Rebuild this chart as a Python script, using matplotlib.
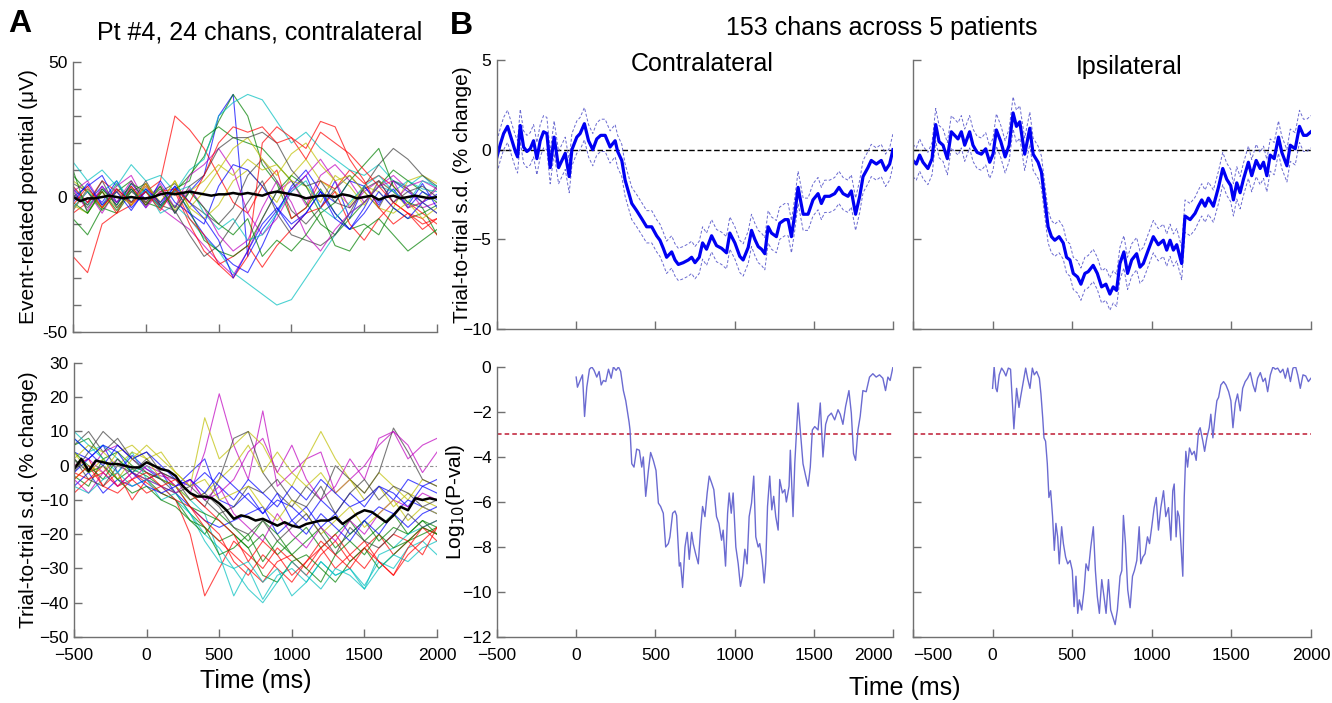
import matplotlib
matplotlib.use("Agg")
import matplotlib.pyplot as plt

plt.rcParams['font.family'] = ['Liberation Sans', 'DejaVu Sans']

# ---- panel A: single patient, 24 channels (values every 100 ms) ----
t_ch = list(range(-500, 2001, 100))
erp_ch = [
    [3, -2, 4, -3, 5, -1, 4, -6, 2, 8, 30, 38, -22, -12, -5, 3, 8, -4, 6, -8, 4, -3, 6, 2, -2, 1],
    [-8, -14, -4, -6, 2, 5, -3, 2, 8, 15, 28, 38, 30, 12, 5, -8, -4, 3, -6, -12, -10, -14, -4, -8, -6, -3],
    [-22, -28, -10, -6, -3, 2, 6, 30, 25, 18, 8, -2, -6, 4, 10, -8, -4, 6, 3, 10, 5, 8, 4, -2, -6, -10],
    [13, 6, 10, 4, 12, 6, 8, 2, 10, 14, 30, 35, 38, 36, 28, 20, 24, 18, 14, 10, 8, 12, 6, 4, 8, 3],
    [-4, 2, -6, 3, -2, 4, -4, -8, -12, -18, -24, -29, -20, -8, 2, 6, -3, 8, 12, 6, -2, 4, 8, 3, -4, -2],
    [6, 2, -4, 5, -3, 4, -2, 6, -4, -8, -3, 6, 10, 4, -2, 8, 14, 6, 2, -3, 4, 2, -4, 6, 8, 5],
    [2, -4, 3, -2, 4, -3, 2, 5, -2, -6, -10, -4, 8, 14, 6, -5, -10, -4, 3, 8, 2, -4, 6, 3, -2, 4],
    [-5, 3, -2, 6, -4, 2, -3, 4, -6, -14, -20, -25, -28, -18, -6, 4, 10, 2, -6, -12, -4, 6, 2, -3, 5, -4],
    [8, 2, -5, 2, 6, -2, -4, 3, 6, 22, 26, 22, 20, 18, 12, 6, -2, -10, -14, -8, -2, 4, 10, 6, 2, -2],
    [-6, -2, 6, 2, -3, 5, -4, 2, -10, -20, -25, -22, -18, -26, -18, -12, -6, -4, 2, -10, -16, -8, -2, -6, -10, -8],
    [4, -3, 2, 6, -2, 3, -6, -3, -8, -15, -20, -28, -32, -36, -40, -38, -30, -22, -14, -6, -2, 4, 2, 6, 3, 2],
    [2, 6, -3, 4, 8, -2, 5, -4, 8, 12, 18, 10, -6, -14, -8, 2, 8, 14, 6, -4, 2, 6, -2, 4, 6, 3],
    [-3, -6, 2, -4, 3, -2, 4, -5, 2, 6, 12, 8, 14, 10, 12, 6, 4, -2, 8, 4, -3, 6, 2, -4, -2, -6],
    [5, 2, -4, 3, -2, 6, -3, -5, -14, -22, -18, -10, -2, 6, -6, -14, -16, -18, -14, -6, 4, 12, 18, 14, 8, 4],
    [0, 4, 8, -2, 3, -4, 6, -2, -6, -10, 4, 12, 10, 4, -4, -10, -6, 2, -2, 6, 4, -2, 3, -4, 2, -1],
    [-2, -6, 3, -3, 5, 2, -4, 3, -5, -16, -20, -22, -18, -8, 2, 8, 4, -6, -2, 6, 12, 18, 4, -2, -4, -14],
    [4, -2, 2, -6, 4, -3, 2, 3, -8, -14, -25, -30, -22, 20, 26, 22, 14, 24, 20, 16, 10, 4, -2, -6, -8, -14],
    [-4, 2, -3, 5, -2, 3, -4, 2, 4, -6, -12, -8, -16, -14, -6, 2, 6, -4, -8, -2, 4, 8, 2, -2, 6, 4],
    [3, -5, 4, -2, 6, -4, 2, -6, 3, -4, -14, -20, -16, -4, 6, -2, -14, -20, -12, -6, -2, 4, 6, -4, -2, 3],
    [-5, 3, -4, 2, -3, 5, -2, 6, -4, 2, 10, 18, 22, 14, 8, 16, 20, 12, 6, 8, 2, -4, -6, -2, -8, -4],
    [1, -3, 6, -4, 2, -2, 3, -4, 4, 8, 18, 22, 22, 24, 20, 10, 4, 6, -2, -4, 3, 6, -2, 2, 4, 0],
    [-2, 5, -3, 2, -5, 3, -2, 4, -2, -8, -16, -30, -20, -10, -4, -12, -6, 2, -8, -12, -6, 2, -4, -8, -2, -6],
    [10, -6, 2, -5, 3, -3, 4, -6, 2, -4, -10, -14, -8, -22, -16, -20, -14, -6, -18, -20, -12, -8, -14, -20, -16, -12],
    [-3, 4, -4, 3, -2, 2, -5, 3, -2, 8, 20, 26, 24, 26, 20, 22, 18, 28, 26, 14, 6, -4, -10, -6, -12, -8],
]
sd_ch = [
    [4, 2, 6, -2, 3, -1, -4, -6, -2, 2, -10, -12, -8, -14, -10, -12, -16, -10, -14, -8, -12, -6, -10, -4, -6, -8],
    [-3, -6, 2, -4, -1, -3, -6, -8, -14, -18, -22, -20, -24, -20, -26, -22, -18, -24, -20, -16, -22, -18, -14, -20, -16, -18],
    [-2, -4, 0, -6, -2, -5, -8, -10, -20, -38, -30, -22, -26, -30, -24, -28, -32, -26, -22, -28, -24, -20, -26, -22, -18, -20],
    [8, 4, 6, 2, -2, 0, -4, -6, -10, -14, -26, -38, -30, -39, -32, -30, -34, -28, -32, -30, -35, -28, -30, -24, -22, -26],
    [2, -2, 4, 6, 2, -1, -3, -4, -8, 4, 21, 6, -4, 16, -6, -2, 2, 4, -8, -4, 0, 6, 10, 2, 6, 8],
    [-4, 0, -2, 4, 6, 2, 4, -2, -6, 14, 2, 6, 10, 6, -2, -6, 2, 10, 2, -4, -8, -2, -6, -10, -4, -6],
    [6, 10, 4, 8, 2, 4, -2, -4, -8, -12, -4, 8, 10, -2, -8, -12, -6, -10, 0, -4, -8, -2, 11, 4, -4, -6],
    [-6, -2, -8, -4, -6, -4, -2, -8, -12, -16, -18, -16, -14, -12, -20, -16, -12, -18, -14, -20, -16, -12, -14, -10, -12, -14],
    [6, 8, 2, 4, 0, -2, -4, -6, -12, -14, -16, -20, -24, -32, -34, -28, -26, -30, -34, -28, -24, -30, -26, -22, -20, -18],
    [0, 2, -6, -2, -10, -4, -2, -6, -12, -16, -20, -28, -32, -26, -30, -34, -28, -24, -30, -26, -22, -28, -32, -24, -18, -22],
    [10, 6, 2, -2, 4, -4, -6, -10, -14, -22, -28, -30, -36, -40, -34, -28, -32, -36, -30, -32, -36, -30, -26, -28, -24, -22],
    [-4, -8, -2, 2, -4, 0, -2, -6, -4, -10, -8, -4, 4, 8, -2, 6, -4, -10, -6, 2, -4, 8, 10, 6, -2, 4],
    [2, 6, 4, 0, 4, 2, -4, -6, -10, -8, -4, 0, 6, -2, 4, -2, -6, -2, -8, -4, -10, -6, -12, -8, -10, -12],
    [-2, 4, 10, 6, 2, -2, -4, -8, -6, -10, -14, -12, -6, -8, -4, -10, -12, -6, -14, -8, -4, -10, -6, -8, -12, -10],
    [8, 4, 0, 6, 2, 4, 0, -4, -6, -2, -6, -10, -4, -8, -12, -6, -10, -4, -8, -12, -10, -6, -8, -12, -6, -4],
    [4, 0, -4, 2, -2, -4, -8, -10, -16, -20, -14, -18, -22, -16, -20, -26, -22, -18, -24, -20, -16, -22, -18, -20, -16, -20],
    [-8, -4, -2, -6, -4, -8, -6, -10, -12, -18, -22, -26, -30, -34, -28, -26, -30, -24, -20, -26, -30, -24, -20, -22, -26, -18],
    [-6, -8, -4, -2, -6, -4, -10, -8, -14, -20, -24, -30, -28, -34, -30, -38, -34, -28, -32, -30, -36, -26, -24, -20, -18, -16],
    [0, 2, -2, -6, -2, -4, -6, -8, -4, -10, -6, -14, -18, -22, -14, -20, -24, -18, -22, -16, -20, -14, -10, -12, -8, -10],
    [4, -2, 2, -4, 2, 6, 2, -2, -6, -4, -10, -8, -6, -12, -16, -10, -14, -20, -16, -12, -18, -14, -10, -16, -12, -14],
    [2, -4, -6, 0, -2, 2, -2, -4, -10, -8, -12, -18, -20, -16, -22, -18, -14, -20, -26, -18, -22, -24, -20, -14, -18, -16],
    [-2, 2, 6, 4, -2, -6, -8, -6, -4, -8, -2, -6, -10, -14, -8, -16, -20, -14, -18, -22, -16, -20, -14, -18, -14, -12],
    [2, -2, 0, -4, -8, -6, -10, -12, -16, -18, -26, -24, -20, -28, -22, -26, -30, -34, -26, -22, -26, -20, -24, -22, -18, -20],
    [-4, 0, -6, -8, -4, -2, -6, -4, -8, -12, -16, -20, -28, -22, -26, -32, -28, -22, -26, -30, -24, -28, -32, -26, -22, -18],
]
# channel means (black lines), every 50 ms
t_mean = list(range(-500, 2001, 50))
erp_mean = [0, -1.5, -0.5, -0.5, 0, 0.5, 0, -0.5, 0, -0.5, -0.5, 0, 1, 1.5, 1, 1.5, 2, 1.5, 1, 0.5,
            1, 1, 1.5, 1, 1.5, 1, 0.5, 1.5, 2, 1.5, 1, 0.5, -0.5, 0, 0.5, 0.5, 0, 1, 0.5, -0.5,
            0, 0.5, -1, 0, 0.5, -0.5, 0, 0.5, 0, -0.5, 0]
sd_mean = [-1, 2, -1.5, 1.5, 1, 0.5, 0.5, 0, -0.5, -0.5, 1, 0, -1, -1.5, -3, -6, -8, -9, -9, -9.5,
           -11, -13, -15.5, -14.5, -15, -16, -15.5, -16.5, -17.5, -16.5, -17.5, -18, -17, -16.5, -16, -16, -15, -17, -15.5, -14,
           -13, -13.5, -15, -16.5, -14.5, -12, -13, -9.5, -10, -9.5, -10]

# ---- panel B: group mean s.d. change ----
t_contra = [-500, -479, -458, -433, -405, -384, -370, -353, -332, -311, -290, -269, -248, -227, -206, -185, -164, -139, -111, -90,
            -69, -44, -27, 4, 25, 52, 78, 105, 130, 155, 183, 214, 246, 262, 288, 309, 330, 351, 382, 414,
            445, 477, 508, 529, 550, 571, 603, 624, 645, 676, 708, 729, 750, 777, 798, 823, 855, 886, 918, 949,
            970, 1002, 1033, 1054, 1086, 1107, 1128, 1149, 1170, 1191, 1212, 1233, 1264, 1285, 1317, 1338, 1359, 1380, 1401, 1433,
            1464, 1495, 1527, 1548, 1569, 1600, 1632, 1659, 1685, 1716, 1737, 1764, 1790, 1811, 1842, 1863, 1895, 1926, 1953, 1979, 2000]
sd_contra = [-0.4, 0.3, 0.9, 1.3, 0.5, -0.1, -0.4, 1.35, 0.15, -0.1, 0.05, 0.5, -0.5, 0.5, 1.0, 0.9, -1.0, 0.7, -1.0, -0.6,
             -0.2, -1.5, 0, 0.7, 0.9, 1.45, 0.5, 0, 0.6, 0.8, 0.8, 0.15, 0.5, -0.1, -0.6, -1.7, -2.35, -3.0, -3.4, -3.85,
             -4.3, -4.3, -4.8, -5.05, -5.5, -6.0, -5.7, -6.15, -6.4, -6.3, -6.15, -6.0, -6.3, -6.0, -5.2, -5.55, -4.8, -5.35, -5.5, -5.75,
             -4.65, -5.2, -5.95, -6.15, -5.45, -4.5, -5.0, -5.4, -5.55, -5.8, -4.3, -4.65, -4.85, -4.1, -3.9, -3.9, -4.85, -3.6, -2.1, -3.6,
             -3.6, -2.8, -2.45, -3.0, -2.6, -2.6, -2.45, -2.1, -2.45, -2.6, -2.3, -3.6, -2.6, -1.5, -1.0, -0.6, -0.8, -0.6, -1.15, -0.8, 0]
t_ipsi = [-500, -479, -458, -437, -406, -380, -357, -336, -311, -284, -259, -238, -217, -196, -175, -144, -123, -97, -70, -43,
          -18, 3, 24, 52, 79, 104, 129, 150, 171, 202, 234, 255, 286, 307, 328, 349, 370, 391, 418, 444,
          465, 486, 507, 534, 555, 580, 601, 632, 658, 685, 712, 737, 758, 779, 800, 825, 848, 874, 905, 926,
          947, 978, 1010, 1041, 1073, 1094, 1115, 1136, 1157, 1188, 1209, 1241, 1272, 1293, 1314, 1335, 1356, 1387, 1419, 1446,
          1471, 1496, 1513, 1534, 1555, 1576, 1607, 1628, 1656, 1681, 1702, 1723, 1744, 1769, 1796, 1817, 1849, 1870, 1901, 1928,
          1953, 1974, 2000]
sd_ipsi = [-0.6, -0.8, -0.3, -0.7, -1.05, -0.5, 1.4, 0.45, 0.25, -0.5, 1.0, 0.8, 0.6, 1.0, 0.25, 1.0, 0.25, -0.15, -0.25, 0.05,
           -0.7, -0.25, 1.1, 0.45, -0.4, 0.25, 2.05, 1.3, 1.55, -0.25, 1.2, -0.25, -0.7, -1.25, -2.8, -4.3, -4.85, -5.05, -4.85, -5.2,
           -6.0, -6.15, -6.9, -7.1, -7.5, -6.9, -6.8, -6.45, -6.9, -7.65, -7.5, -8.05, -7.65, -7.85, -6.35, -5.7, -6.9, -6.15, -5.8, -6.55,
           -6.35, -5.6, -4.85, -5.3, -5.05, -5.6, -5.05, -5.6, -5.3, -6.35, -3.7, -3.9, -3.55, -3.15, -2.8, -3.15, -2.7, -3.15, -2.1, -1.05,
           -1.65, -2.0, -2.8, -1.85, -2.4, -1.65, -0.7, -1.45, -0.6, -1.05, -0.7, -1.45, -0.3, -0.5, 0.7, -0.15, -0.9, 0.25, 0.05, 1.3,
           0.8, 0.8, 1.0]
sem_contra = 0.9
sem_ipsi = 0.9

# ---- panel B: log10 p-values ----
t_p_contra = [0, 8, 25, 40, 53, 67, 84, 99, 113, 130, 145, 158, 172, 187, 204, 221, 235, 252, 267, 281,
              298, 313, 326, 334, 340, 351, 365, 382, 399, 414, 424, 439, 456, 470, 487, 504, 519, 533, 550, 565,
              582, 592, 609, 624, 634, 651, 659, 672, 687, 701, 714, 729, 739, 754, 771, 785, 798, 813, 827, 840,
              855, 869, 886, 901, 918, 928, 943, 956, 966, 979, 991, 1008, 1023, 1037, 1050, 1065, 1079, 1092, 1107, 1121,
              1134, 1149, 1159, 1174, 1187, 1197, 1208, 1222, 1235, 1247, 1260, 1275, 1285, 1302, 1317, 1327, 1344, 1352, 1369, 1380,
              1401, 1415, 1432, 1449, 1464, 1478, 1491, 1506, 1527, 1541, 1558, 1575, 1590, 1611, 1632, 1653, 1667, 1684, 1701, 1722,
              1737, 1751, 1764, 1779, 1793, 1810, 1831, 1852, 1873, 1894, 1915, 1936, 1953, 1968, 1982, 2000]
p_contra = [-0.45, -0.9, -0.6, -0.35, -2.2, -0.9, -0.1, 0, -0.15, -0.45, -0.2, -0.8, -0.6, -0.65, -0.1, -0.5, 0, -0.15, 0, -0.2,
            -1.05, -1.5, -2.1, -2.45, -2.8, -4.3, -4.45, -3.65, -3.7, -4.45, -4.0, -5.75, -4.6, -3.8, -4.15, -4.6, -6.05, -6.2, -6.5, -8.0,
            -7.85, -7.55, -6.5, -6.4, -6.6, -8.85, -8.7, -9.8, -8.0, -7.35, -8.55, -7.35, -7.85, -8.3, -8.75, -7.25, -6.2, -6.65, -5.6, -4.85,
            -5.15, -5.45, -6.65, -6.95, -7.7, -7.25, -8.85, -6.5, -5.6, -6.5, -5.6, -8.0, -8.75, -9.75, -9.3, -8.1, -8.75, -6.65, -6.05, -4.85,
            -7.55, -8.0, -7.85, -8.55, -9.6, -8.7, -6.2, -4.85, -6.35, -5.75, -6.65, -7.25, -5.0, -5.6, -5.45, -6.0, -5.3, -3.7, -6.65, -4.3,
            -1.6, -2.8, -4.3, -4.85, -5.3, -4.45, -2.8, -2.65, -2.8, -1.6, -4.0, -2.55, -2.2, -2.05, -2.35, -1.9, -2.1, -2.55, -1.75, -1.05,
            -2.05, -3.85, -4.15, -2.8, -2.2, -1.05, -1.1, -0.45, -0.3, -0.45, -0.35, -0.5, -1.05, -0.45, -0.6, 0]
t_p_ipsi = [0, 10, 21, 29, 42, 57, 71, 84, 99, 113, 134, 151, 166, 176, 193, 208, 220, 235, 250, 262,
            277, 294, 304, 315, 323, 333, 344, 354, 365, 377, 388, 398, 409, 419, 434, 445, 459, 472, 487, 501,
            512, 524, 535, 545, 560, 575, 587, 602, 617, 633, 646, 658, 671, 686, 700, 713, 728, 742, 755, 770,
            784, 801, 812, 822, 835, 849, 864, 879, 891, 906, 921, 931, 944, 958, 973, 986, 1000, 1015, 1028, 1042,
            1057, 1074, 1088, 1105, 1120, 1132, 1141, 1153, 1162, 1172, 1183, 1195, 1204, 1214, 1225, 1237, 1252, 1267, 1279, 1294,
            1304, 1321, 1332, 1346, 1361, 1371, 1384, 1399, 1409, 1420, 1434, 1451, 1466, 1483, 1497, 1510, 1525, 1539, 1556, 1571,
            1587, 1602, 1619, 1636, 1650, 1665, 1682, 1699, 1713, 1728, 1745, 1761, 1776, 1791, 1808, 1824, 1839, 1854, 1871, 1887,
            1904, 1917, 1933, 1950, 1967, 1984, 2000]
p_ipsi = [-0.95, 0, -0.95, -1.1, -0.35, -0.05, -0.2, -0.4, -0.05, -0.1, -2.75, -0.95, -1.8, -1.35, -0.65, -0.05, -0.5, -0.95, -0.05, -0.35,
          -0.2, -0.5, -1.2, -2.25, -3.15, -3.3, -4.3, -5.8, -5.5, -6.65, -8.15, -6.95, -7.55, -8.75, -7.1, -7.85, -8.45, -8.75, -8.6, -9.05,
          -10.65, -9.3, -10.95, -10.35, -10.8, -9.9, -8.75, -9.05, -8.0, -7.1, -9.05, -10.2, -10.95, -9.45, -10.2, -10.95, -9.45, -10.8, -11.1, -11.45,
          -10.8, -9.3, -9.05, -6.6, -7.85, -9.9, -10.7, -9.3, -9.05, -8.6, -7.1, -8.75, -8.45, -8.3, -7.55, -7.85, -7.1, -6.25, -5.8, -7.25,
          -6.25, -5.5, -6.65, -6.25, -7.7, -5.5, -5.2, -7.55, -6.4, -6.65, -7.85, -9.3, -5.8, -3.75, -4.45, -3.6, -3.9, -3.75, -4.15, -2.85,
          -2.7, -3.3, -3.75, -3.15, -2.7, -2.1, -3.15, -2.1, -1.5, -1.35, -0.8, -0.65, -0.8, -1.1, -1.5, -2.7, -1.6, -1.2, -1.95, -0.95,
          -0.65, -0.5, -0.25, -0.8, -1.1, -0.5, -0.25, -0.65, -0.5, -1.1, -0.35, 0, -0.1, -0.05, -0.25, -0.1, -0.5, -0.05, -0.65, -0.05,
          0, -0.35, -0.95, -0.35, -0.4, -0.65, -0.5]
p_thresh = -3

ch_colors = [(0, 0, 1), (0, 0.5, 0), (1, 0, 0), (0, 0.75, 0.75), (0.75, 0, 0.75), (0.75, 0.75, 0), (0.25, 0.25, 0.25)]
spine_col = '#707070'
xt = [-500, 0, 500, 1000, 1500, 2000]


def style(ax):
    for s in ['top', 'right']:
        ax.spines[s].set_visible(False)
    for s in ['left', 'bottom']:
        ax.spines[s].set_color(spine_col)
        ax.spines[s].set_linewidth(1.0)
    ax.tick_params(direction='in', length=6, width=1, color=spine_col, labelsize=12.5)
    ax.tick_params(axis='y', pad=4)
    ax.tick_params(axis='x', pad=8)
    ax.set_xlim(-500, 2000)
    ax.set_xticks(xt)


fig = plt.figure(figsize=(13.32, 7.03), dpi=100)

# A top: ERP
axA1 = fig.add_axes([0.0548, 0.5277, 0.2733, 0.3841])
for i, tr in enumerate(erp_ch):
    axA1.plot(t_ch, tr, color=ch_colors[i % 7], lw=0.8, alpha=0.7)
axA1.plot(t_mean, erp_mean, color='k', lw=1.8)
style(axA1)
axA1.set_ylim(-50, 50)
axA1.set_yticks(range(-50, 51, 10))
axA1.set_yticklabels(['-50', '', '', '', '', '0', '', '', '', '', '50'])
axA1.set_xticklabels([])
axA1.set_ylabel('Event-related potential (μV)', fontsize=15)
axA1.yaxis.set_label_coords(-0.095, 0.5)

# A bottom: trial-to-trial sd
axA2 = fig.add_axes([0.0556, 0.0939, 0.2725, 0.3898])
for i, tr in enumerate(sd_ch):
    axA2.plot(t_ch, tr, color=ch_colors[i % 7], lw=0.8, alpha=0.7)
axA2.axhline(0, color='#909090', lw=0.8, ls=(0, (3, 2)))
axA2.plot(t_mean, sd_mean, color='k', lw=1.8)
style(axA2)
axA2.set_ylim(-50, 30)
axA2.set_yticks(range(-50, 31, 10))
axA2.set_ylabel('Trial-to-trial s.d. (% change)', fontsize=15)
axA2.yaxis.set_label_coords(-0.1, 0.5)
axA2.set_xlabel('Time (ms)', fontsize=18, labelpad=4)

# B top row
band_kw = dict(color='#6a6ad0', lw=0.7, ls=(0, (3, 2)))
axB1 = fig.add_axes([0.3731, 0.5320, 0.2973, 0.3826])
axB2 = fig.add_axes([0.6854, 0.5320, 0.2988, 0.3826])
for ax, tt, mm, se in [(axB1, t_contra, sd_contra, sem_contra), (axB2, t_ipsi, sd_ipsi, sem_ipsi)]:
    ax.axhline(0, color='k', lw=1, ls=(0, (4, 2)))
    ax.plot(tt, [v + se for v in mm], **band_kw)
    ax.plot(tt, [v - se for v in mm], **band_kw)
    ax.plot(tt, mm, color=(0, 0, 0.95), lw=2.3)
    style(ax)
    ax.set_ylim(-10, 5)
    ax.set_yticks([-10, -5, 0, 5])
    ax.set_xticklabels([])
axB2.set_yticklabels([])
axB1.set_ylabel('Trial-to-trial s.d. (% change)', fontsize=15)
axB1.yaxis.set_label_coords(-0.063, 0.5)

# B bottom row
axB3 = fig.add_axes([0.3731, 0.0939, 0.2973, 0.3841])
axB4 = fig.add_axes([0.6854, 0.0939, 0.2988, 0.3841])
for ax, tt, pp in [(axB3, t_p_contra, p_contra), (axB4, t_p_ipsi, p_ipsi)]:
    ax.axhline(p_thresh, color=(0.75, 0.1, 0.2), lw=1.1, ls=(0, (3, 2)))
    ax.plot(tt, pp, color=(0.42, 0.42, 0.82), lw=1.0)
    style(ax)
    ax.set_ylim(-12, 0)
    ax.set_yticks(range(-12, 1, 2))
axB4.set_yticklabels([])
axB3.set_ylabel('Log$_{10}$(P-val)', fontsize=15)
axB3.yaxis.set_label_coords(-0.076, 0.5)
# keep the touching end labels apart
axB3.get_xticklabels()[-1].set_horizontalalignment('right')
axB4.get_xticklabels()[0].set_horizontalalignment('left')

# titles and panel letters
fig.text(0.006, 0.966, 'A', fontsize=23, fontweight='bold', va='center')
fig.text(0.195, 0.954, 'Pt #4, 24 chans, contralateral', fontsize=18, ha='center', va='center')
fig.text(0.338, 0.963, 'B', fontsize=23, fontweight='bold', va='center')
fig.text(0.662, 0.960, '153 chans across 5 patients', fontsize=18, ha='center', va='center')
fig.text(0.527, 0.909, 'Contralateral', fontsize=18, ha='center', va='center')
fig.text(0.848, 0.905, 'Ipsilateral', fontsize=18, ha='center', va='center')
fig.text(0.679, 0.021, 'Time (ms)', fontsize=18, ha='center', va='center')

fig.savefig('out.png', dpi=100)
